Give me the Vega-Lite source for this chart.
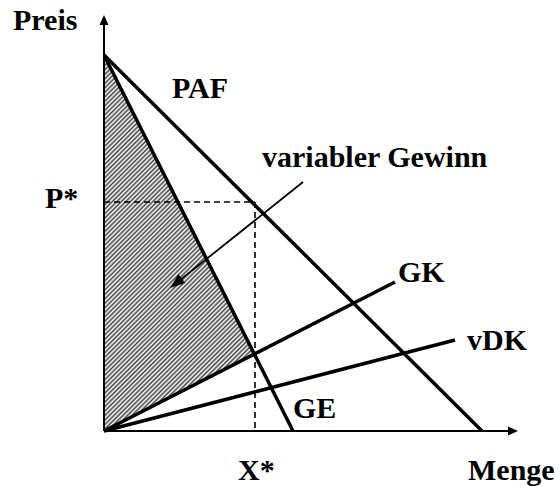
{
  "$schema": "https://vega.github.io/schema/vega-lite/v6.json",
  "width": 560,
  "height": 486,
  "autosize": {"type": "fit", "contains": "padding"},
  "padding": 0,
  "background": "white",
  "config": {"view": {"stroke": null}},
  "encoding": {
    "x": {"field": "x", "type": "quantitative", "scale": {"domain": [-104, 456], "nice": false, "zero": false}, "axis": null},
    "y": {"field": "y", "type": "quantitative", "scale": {"domain": [-55, 431], "nice": false, "zero": false}, "axis": null}
  },
  "layer": [
    {
      "data": {"values": [{"x": 0, "y": 376, "y2": 0}, {"x": 150.3, "y": 77, "y2": 77}]},
      "mark": {
        "type": "area", "opacity": 1, "fillOpacity": 1, "strokeWidth": 0,
        "fill": {
          "gradient": "linear", "x1": 0, "y1": 0, "x2": 0.411, "y2": 1.03,
          "stops": [
            {"offset":0,"color":"#fff"},{"offset":0.005,"color":"#444"},{"offset":0.01,"color":"#fff"},{"offset":0.015,"color":"#444"},{"offset":0.02,"color":"#fff"},{"offset":0.025,"color":"#444"},{"offset":0.03,"color":"#fff"},{"offset":0.035,"color":"#444"},{"offset":0.04,"color":"#fff"},{"offset":0.045,"color":"#444"},
            {"offset":0.05,"color":"#fff"},{"offset":0.055,"color":"#444"},{"offset":0.06,"color":"#fff"},{"offset":0.065,"color":"#444"},{"offset":0.07,"color":"#fff"},{"offset":0.075,"color":"#444"},{"offset":0.08,"color":"#fff"},{"offset":0.085,"color":"#444"},{"offset":0.09,"color":"#fff"},{"offset":0.095,"color":"#444"},
            {"offset":0.1,"color":"#fff"},{"offset":0.105,"color":"#444"},{"offset":0.11,"color":"#fff"},{"offset":0.115,"color":"#444"},{"offset":0.12,"color":"#fff"},{"offset":0.125,"color":"#444"},{"offset":0.13,"color":"#fff"},{"offset":0.135,"color":"#444"},{"offset":0.14,"color":"#fff"},{"offset":0.145,"color":"#444"},
            {"offset":0.15,"color":"#fff"},{"offset":0.155,"color":"#444"},{"offset":0.16,"color":"#fff"},{"offset":0.165,"color":"#444"},{"offset":0.17,"color":"#fff"},{"offset":0.175,"color":"#444"},{"offset":0.18,"color":"#fff"},{"offset":0.185,"color":"#444"},{"offset":0.19,"color":"#fff"},{"offset":0.195,"color":"#444"},
            {"offset":0.2,"color":"#fff"},{"offset":0.205,"color":"#444"},{"offset":0.21,"color":"#fff"},{"offset":0.215,"color":"#444"},{"offset":0.22,"color":"#fff"},{"offset":0.225,"color":"#444"},{"offset":0.23,"color":"#fff"},{"offset":0.235,"color":"#444"},{"offset":0.24,"color":"#fff"},{"offset":0.245,"color":"#444"},
            {"offset":0.25,"color":"#fff"},{"offset":0.255,"color":"#444"},{"offset":0.26,"color":"#fff"},{"offset":0.265,"color":"#444"},{"offset":0.27,"color":"#fff"},{"offset":0.275,"color":"#444"},{"offset":0.28,"color":"#fff"},{"offset":0.285,"color":"#444"},{"offset":0.29,"color":"#fff"},{"offset":0.295,"color":"#444"},
            {"offset":0.3,"color":"#fff"},{"offset":0.305,"color":"#444"},{"offset":0.31,"color":"#fff"},{"offset":0.315,"color":"#444"},{"offset":0.32,"color":"#fff"},{"offset":0.325,"color":"#444"},{"offset":0.33,"color":"#fff"},{"offset":0.335,"color":"#444"},{"offset":0.34,"color":"#fff"},{"offset":0.345,"color":"#444"},
            {"offset":0.35,"color":"#fff"},{"offset":0.355,"color":"#444"},{"offset":0.36,"color":"#fff"},{"offset":0.365,"color":"#444"},{"offset":0.37,"color":"#fff"},{"offset":0.375,"color":"#444"},{"offset":0.38,"color":"#fff"},{"offset":0.385,"color":"#444"},{"offset":0.39,"color":"#fff"},{"offset":0.395,"color":"#444"},
            {"offset":0.4,"color":"#fff"},{"offset":0.405,"color":"#444"},{"offset":0.41,"color":"#fff"},{"offset":0.415,"color":"#444"},{"offset":0.42,"color":"#fff"},{"offset":0.425,"color":"#444"},{"offset":0.43,"color":"#fff"},{"offset":0.435,"color":"#444"},{"offset":0.44,"color":"#fff"},{"offset":0.445,"color":"#444"},
            {"offset":0.45,"color":"#fff"},{"offset":0.455,"color":"#444"},{"offset":0.46,"color":"#fff"},{"offset":0.465,"color":"#444"},{"offset":0.47,"color":"#fff"},{"offset":0.475,"color":"#444"},{"offset":0.48,"color":"#fff"},{"offset":0.485,"color":"#444"},{"offset":0.49,"color":"#fff"},{"offset":0.495,"color":"#444"},
            {"offset":0.5,"color":"#fff"},{"offset":0.505,"color":"#444"},{"offset":0.51,"color":"#fff"},{"offset":0.515,"color":"#444"},{"offset":0.52,"color":"#fff"},{"offset":0.525,"color":"#444"},{"offset":0.53,"color":"#fff"},{"offset":0.535,"color":"#444"},{"offset":0.54,"color":"#fff"},{"offset":0.545,"color":"#444"},
            {"offset":0.55,"color":"#fff"},{"offset":0.555,"color":"#444"},{"offset":0.56,"color":"#fff"},{"offset":0.565,"color":"#444"},{"offset":0.57,"color":"#fff"},{"offset":0.575,"color":"#444"},{"offset":0.58,"color":"#fff"},{"offset":0.585,"color":"#444"},{"offset":0.59,"color":"#fff"},{"offset":0.595,"color":"#444"},
            {"offset":0.6,"color":"#fff"},{"offset":0.605,"color":"#444"},{"offset":0.61,"color":"#fff"},{"offset":0.615,"color":"#444"},{"offset":0.62,"color":"#fff"},{"offset":0.625,"color":"#444"},{"offset":0.63,"color":"#fff"},{"offset":0.635,"color":"#444"},{"offset":0.64,"color":"#fff"},{"offset":0.645,"color":"#444"},
            {"offset":0.65,"color":"#fff"},{"offset":0.655,"color":"#444"},{"offset":0.66,"color":"#fff"},{"offset":0.665,"color":"#444"},{"offset":0.67,"color":"#fff"},{"offset":0.675,"color":"#444"},{"offset":0.68,"color":"#fff"},{"offset":0.685,"color":"#444"},{"offset":0.69,"color":"#fff"},{"offset":0.695,"color":"#444"},
            {"offset":0.7,"color":"#fff"},{"offset":0.705,"color":"#444"},{"offset":0.71,"color":"#fff"},{"offset":0.715,"color":"#444"},{"offset":0.72,"color":"#fff"},{"offset":0.725,"color":"#444"},{"offset":0.73,"color":"#fff"},{"offset":0.735,"color":"#444"},{"offset":0.74,"color":"#fff"},{"offset":0.745,"color":"#444"},
            {"offset":0.75,"color":"#fff"},{"offset":0.755,"color":"#444"},{"offset":0.76,"color":"#fff"},{"offset":0.765,"color":"#444"},{"offset":0.77,"color":"#fff"},{"offset":0.775,"color":"#444"},{"offset":0.78,"color":"#fff"},{"offset":0.785,"color":"#444"},{"offset":0.79,"color":"#fff"},{"offset":0.795,"color":"#444"},
            {"offset":0.8,"color":"#fff"},{"offset":0.805,"color":"#444"},{"offset":0.81,"color":"#fff"},{"offset":0.815,"color":"#444"},{"offset":0.82,"color":"#fff"},{"offset":0.825,"color":"#444"},{"offset":0.83,"color":"#fff"},{"offset":0.835,"color":"#444"},{"offset":0.84,"color":"#fff"},{"offset":0.845,"color":"#444"},
            {"offset":0.85,"color":"#fff"},{"offset":0.855,"color":"#444"},{"offset":0.86,"color":"#fff"},{"offset":0.865,"color":"#444"},{"offset":0.87,"color":"#fff"},{"offset":0.875,"color":"#444"},{"offset":0.88,"color":"#fff"},{"offset":0.885,"color":"#444"},{"offset":0.89,"color":"#fff"},{"offset":0.895,"color":"#444"},
            {"offset":0.9,"color":"#fff"},{"offset":0.905,"color":"#444"},{"offset":0.91,"color":"#fff"},{"offset":0.915,"color":"#444"},{"offset":0.92,"color":"#fff"},{"offset":0.925,"color":"#444"},{"offset":0.93,"color":"#fff"},{"offset":0.935,"color":"#444"},{"offset":0.94,"color":"#fff"},{"offset":0.945,"color":"#444"},
            {"offset":0.95,"color":"#fff"},{"offset":0.955,"color":"#444"},{"offset":0.96,"color":"#fff"},{"offset":0.965,"color":"#444"},{"offset":0.97,"color":"#fff"},{"offset":0.975,"color":"#444"},{"offset":0.98,"color":"#fff"},{"offset":0.985,"color":"#444"},{"offset":0.99,"color":"#fff"},{"offset":0.995,"color":"#444"},
            {"offset":1,"color":"#fff"}
          ]
        }
      },
      "encoding": {"y2": {"field": "y2"}}
    },
    {
      "data": {"values": [{"x": 0, "y": 229, "x2": 151, "y2": 229}, {"x": 151, "y": 229, "x2": 151, "y2": 0}]},
      "mark": {"type": "rule", "color": "black", "strokeWidth": 1.6, "strokeDash": [6, 4]},
      "encoding": {"x2": {"field": "x2"}, "y2": {"field": "y2"}}
    },
    {
      "data": {"values": [{"x": 0, "y": 0, "x2": 409, "y2": 0}, {"x": 0, "y": 0, "x2": 0, "y2": 411}]},
      "mark": {"type": "rule", "color": "black", "strokeWidth": 2},
      "encoding": {"x2": {"field": "x2"}, "y2": {"field": "y2"}}
    },
    {
      "data": {"values": [
        {"name": "PAF", "x": 0, "y": 376, "x2": 378, "y2": 0},
        {"name": "GE", "x": 0, "y": 376, "x2": 189, "y2": 0},
        {"name": "GK", "x": 0, "y": 0, "x2": 291, "y2": 149},
        {"name": "vDK", "x": 0, "y": 0, "x2": 351, "y2": 91}
      ]},
      "mark": {"type": "rule", "color": "black", "strokeWidth": 3.5},
      "encoding": {"x2": {"field": "x2"}, "y2": {"field": "y2"}}
    },
    {
      "data": {"values": [{"x": 199, "y": 249, "x2": 72, "y2": 147.7}]},
      "mark": {"type": "rule", "color": "black", "strokeWidth": 1.8},
      "encoding": {"x2": {"field": "x2"}, "y2": {"field": "y2"}}
    },
    {
      "data": {"values": [{"x": 0, "y": 411}]},
      "mark": {"type": "point", "shape": "M0,-1L0.9,1L-0.9,1Z", "size": 100, "filled": true, "color": "black", "opacity": 1, "strokeWidth": 0}
    },
    {
      "data": {"values": [{"x": 409, "y": 0}]},
      "mark": {"type": "point", "shape": "M0,-1L0.9,1L-0.9,1Z", "size": 100, "angle": 90, "filled": true, "color": "black", "opacity": 1, "strokeWidth": 0}
    },
    {
      "data": {"values": [{"x": 71.9, "y": 147.7}]},
      "mark": {"type": "point", "shape": "M0,-1L0.73,1L-0.73,1Z", "size": 225, "angle": 231.4, "filled": true, "color": "black", "opacity": 1, "strokeWidth": 0}
    },
    {
      "data": {"values": [
        {"label": "Preis", "x": -91, "y": 401},
        {"label": "PAF", "x": 68, "y": 333},
        {"label": "variabler Gewinn", "x": 158, "y": 264},
        {"label": "P*", "x": -59, "y": 223},
        {"label": "GK", "x": 294, "y": 149},
        {"label": "vDK", "x": 363, "y": 81},
        {"label": "GE", "x": 189, "y": 13},
        {"label": "X*", "x": 134, "y": -49},
        {"label": "Menge", "x": 364, "y": -49}
      ]},
      "mark": {"type": "text", "font": "Liberation Serif", "fontWeight": "bold", "fontSize": 30, "align": "left", "baseline": "alphabetic", "color": "black"},
      "encoding": {"text": {"field": "label"}}
    }
  ]
}
